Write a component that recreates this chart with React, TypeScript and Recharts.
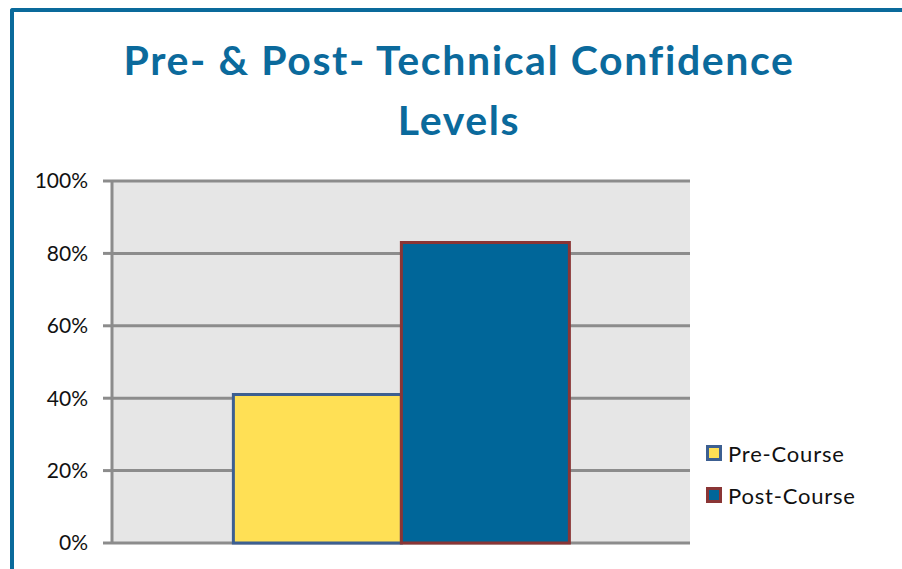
import React from "react";
import {
  BarChart,
  Bar,
  XAxis,
  YAxis,
  CartesianGrid,
} from "recharts";

const categories = ["Technical Confidence"];
const preCourse = [41];
const postCourse = [83];
const yTicks = [0, 20, 40, 60, 80, 100];

const data = categories.map((name, i) => ({
  name,
  pre: preCourse[i],
  post: postCourse[i],
}));

const series = [
  { key: "pre", label: "Pre-Course", fill: "#ffe055", stroke: "#3c5f91" },
  { key: "post", label: "Post-Course", fill: "#006699", stroke: "#8a3535" },
];

document.body.style.margin = "0";

const font = "Lato, 'Open Sans', sans-serif";

function LegendBox() {
  return (
    <div style={{ fontFamily: font, fontSize: 22, color: "#111" }}>
      {series.map((s) => (
        <div key={s.key} style={{ display: "flex", alignItems: "center", height: 42 }}>
          <span
            style={{
              display: "inline-block",
              width: 10,
              height: 10,
              background: s.fill,
              border: `3px solid ${s.stroke}`,
              marginRight: 6,
            }}
          />
          <span style={{ letterSpacing: 0.8 }}>{s.label}</span>
        </div>
      ))}
    </div>
  );
}

export default function App() {
  return (
    <div style={{ position: "relative", width: 902, height: 569, overflow: "hidden", background: "#fff" }}>
      <div
        style={{
          position: "absolute",
          left: 10,
          top: 8,
          width: 1000,
          height: 700,
          borderTop: "4px solid #0a6a9b",
          borderLeft: "4px solid #0a6a9b",
          borderTopLeftRadius: 3,
        }}
      />
      <div
        style={{
          position: "absolute",
          left: 0,
          width: 918,
          top: 30,
          textAlign: "center",
          fontFamily: font,
          fontWeight: 700,
          fontSize: 41,
          letterSpacing: 1.6,
          lineHeight: "60px",
          color: "#0b6a9c",
        }}
      >
        Pre- &amp; Post- Technical Confidence
        <br />
        Levels
      </div>
      <div style={{ position: "absolute", left: 0, top: 0 }}>
        <BarChart
          width={902}
          height={569}
          data={data}
          margin={{ top: 181, right: 212, bottom: 26, left: 0 }}
          barGap={0}
          barCategoryGap="21%"
        >
          <CartesianGrid
            vertical={false}
            fill="#e6e6e6"
            stroke="#8c8c8c"
            strokeWidth={3}
          />
          <XAxis dataKey="name" hide />
          <YAxis
            width={112}
            domain={[0, 100]}
            ticks={yTicks}
            tickFormatter={(v) => `${v}%`}
            axisLine={{ stroke: "#8c8c8c", strokeWidth: 3 }}
            tickLine={{ stroke: "#8c8c8c", strokeWidth: 3 }}
            tickSize={9}
            tickMargin={15}
            tick={{ fill: "#111", fontSize: 21, fontFamily: font }}
          />
          {series.map((s) => (
            <Bar
              key={s.key}
              dataKey={s.key}
              name={s.label}
              fill={s.fill}
              stroke={s.stroke}
              strokeWidth={3}
              isAnimationActive={false}
            />
          ))}
        </BarChart>
      </div>
      <div style={{ position: "absolute", left: 706, top: 432 }}>
        <LegendBox />
      </div>
    </div>
  );
}
